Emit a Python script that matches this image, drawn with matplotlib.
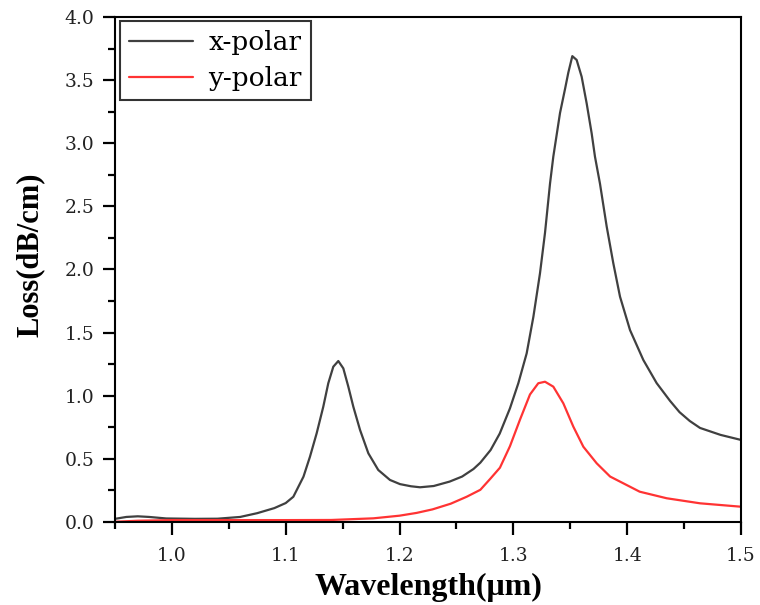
import matplotlib
matplotlib.use("Agg")
import matplotlib.pyplot as plt
from matplotlib.ticker import MultipleLocator, FormatStrFormatter

# x-polarised mode loss
x_wl = [0.950, 0.960, 0.970, 0.980, 0.995, 1.020, 1.040, 1.060, 1.075, 1.090,
        1.100, 1.1067, 1.1156, 1.1213, 1.1272, 1.1330, 1.1374, 1.1418, 1.1462, 1.1506,
        1.1550, 1.1594, 1.1653, 1.1726, 1.1813, 1.1916, 1.2004, 1.210, 1.218, 1.230,
        1.244, 1.255, 1.265, 1.271, 1.280, 1.288, 1.297, 1.3044, 1.3117, 1.3176,
        1.3234, 1.3278, 1.3322, 1.3351, 1.3410, 1.3454, 1.3483, 1.3518, 1.3556, 1.3600,
        1.3644, 1.3688, 1.3717, 1.3761, 1.3820, 1.3878, 1.3937, 1.4025, 1.4142, 1.4259,
        1.4376, 1.446, 1.455, 1.464, 1.482, 1.500]
x_loss = [0.025, 0.040, 0.045, 0.040, 0.028, 0.025, 0.026, 0.040, 0.070, 0.110,
          0.150, 0.200, 0.359, 0.517, 0.703, 0.913, 1.099, 1.230, 1.275, 1.217,
          1.072, 0.913, 0.729, 0.544, 0.412, 0.333, 0.300, 0.283, 0.275, 0.285,
          0.320, 0.360, 0.420, 0.470, 0.570, 0.700, 0.900, 1.100, 1.336, 1.626,
          1.970, 2.290, 2.680, 2.894, 3.240, 3.430, 3.560, 3.690, 3.660, 3.527,
          3.316, 3.078, 2.894, 2.680, 2.340, 2.050, 1.785, 1.520, 1.283, 1.100,
          0.960, 0.870, 0.800, 0.745, 0.690, 0.650]

# y-polarised mode loss
y_wl = [0.950, 0.970, 1.000, 1.050, 1.100, 1.140, 1.177, 1.200, 1.215, 1.229,
        1.245, 1.259, 1.271, 1.2795, 1.2882, 1.297, 1.3058, 1.3146, 1.3219, 1.3278,
        1.3351, 1.3439, 1.3527, 1.3615, 1.3732, 1.385, 1.411, 1.4347, 1.464, 1.500]
y_loss = [0.002, 0.010, 0.015, 0.015, 0.015, 0.016, 0.029, 0.050, 0.072, 0.100,
          0.145, 0.200, 0.255, 0.340, 0.430, 0.600, 0.810, 1.010, 1.099, 1.111,
          1.072, 0.940, 0.755, 0.596, 0.465, 0.360, 0.240, 0.188, 0.148, 0.121]

series_labels = ["x-polar", "y-polar"]
x_label = "Wavelength(μm)"
y_label = "Loss(dB/cm)"

tick_font = ["DejaVu Serif"]
title_font = ["Liberation Serif", "DejaVu Serif"]

fig = plt.figure(figsize=(7.6, 6.05), dpi=100)
ax = fig.add_axes([0.1513, 0.1372, 0.8237, 0.8347])

line_kw = dict(lw=1.6, solid_joinstyle="round", solid_capstyle="round")
ax.plot(x_wl, x_loss, color="#404040", label=series_labels[0], **line_kw)
ax.plot(y_wl, y_loss, color="#ff3333", label=series_labels[1], **line_kw)

ax.set_xlim(0.95, 1.5)
ax.set_ylim(0.0, 4.0)

ax.xaxis.set_major_locator(MultipleLocator(0.1))
ax.xaxis.set_minor_locator(MultipleLocator(0.05))
ax.yaxis.set_major_locator(MultipleLocator(0.5))
ax.yaxis.set_minor_locator(MultipleLocator(0.25))
ax.xaxis.set_major_formatter(FormatStrFormatter("%.1f"))
ax.yaxis.set_major_formatter(FormatStrFormatter("%.1f"))

for s in ax.spines.values():
    s.set_linewidth(1.5)

ax.tick_params(which="major", direction="out", length=9, width=1.6,
               top=False, right=False)
ax.tick_params(which="minor", direction="out", length=5, width=1.6,
               top=False, right=False)
ax.tick_params(axis="x", which="major", pad=9)
ax.tick_params(axis="y", which="major", pad=6)

for lbl in ax.get_xticklabels() + ax.get_yticklabels():
    lbl.set_fontfamily(tick_font)
    lbl.set_fontsize(13.5)
    lbl.set_color("#222222")

ax.set_xlabel(x_label, fontfamily=title_font, fontsize=23, fontweight="bold",
              labelpad=6)
ax.set_ylabel(y_label, fontfamily=title_font, fontsize=22, fontweight="bold")
ax.yaxis.set_label_coords(-0.113, 0.53)

leg = ax.legend(loc="upper left", bbox_to_anchor=(0.008, 0.992),
                borderaxespad=0, fancybox=False, frameon=True,
                prop={"family": tick_font, "size": 19},
                handlelength=2.4, handletextpad=0.6, borderpad=0.35,
                labelspacing=0.4)
leg.get_frame().set_edgecolor("black")
leg.get_frame().set_linewidth(1.5)

fig.savefig("out.png", dpi=100)
